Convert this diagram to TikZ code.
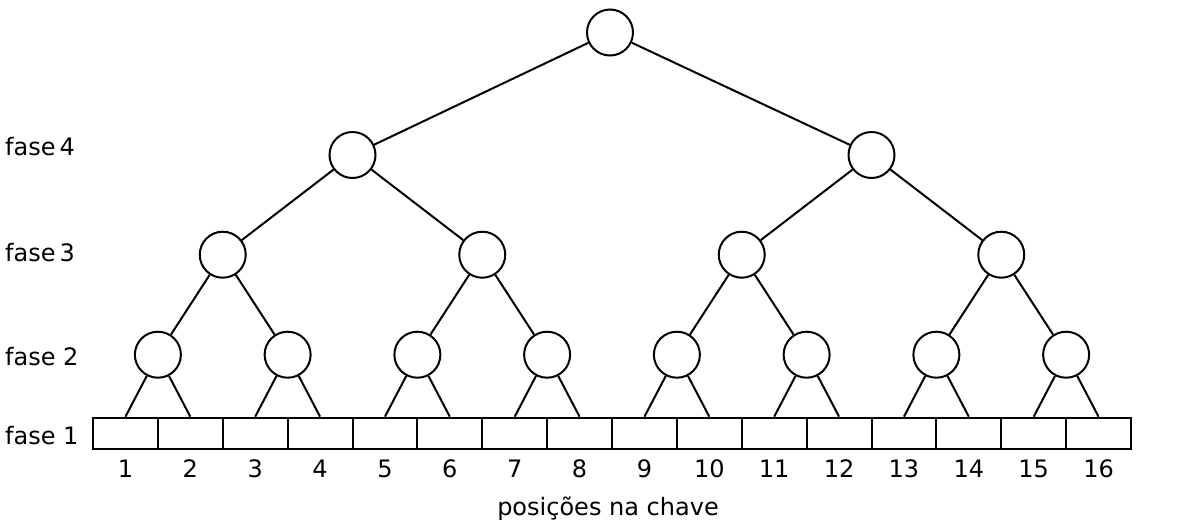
\documentclass[tikz,border=0pt]{standalone}
\usepackage{fontspec}
\setmainfont{DejaVu Sans}
\usepackage{tikz}
\tikzset{
    vertex/.style={circle, draw, inner sep=0pt, minimum size=46pt,
    	line width=2pt},
    keycell/.style={rectangle, draw, inner sep=0pt, minimum width=64.875pt,
    	minimum height=31.6pt, line width=2pt},
    keynum/.style={anchor=base, inner sep=0pt},
    faselabel/.style={anchor=base west, inner sep=0pt},
    every node/.append style={font=\fontsize{24}{28}\selectfont}
}
\tikzset{
    every edge/.append style={line width=2pt}
}

\begin{document}
\begin{tikzpicture}
	\useasboundingbox (0pt, 0pt) rectangle (1181pt, -531pt);

	\node (r) [vertex] at (610pt, -32.5pt) {};

	\node (a1) [vertex] at (352.5pt, -155pt) {};
	\node (a2) [vertex] at (871.5pt, -155pt) {};

	\node (b1) [vertex] at (222.75pt, -254.7pt) {};
	\node (b2) [vertex] at (482.25pt, -254.7pt) {};
	\node (b3) [vertex] at (741.75pt, -254.7pt) {};
	\node (b4) [vertex] at (1001.25pt, -254.7pt) {};

	\node (c1) [vertex] at (157.88pt, -354.7pt) {};
	\node (c2) [vertex] at (287.63pt, -354.7pt) {};
	\node (c3) [vertex] at (417.38pt, -354.7pt) {};
	\node (c4) [vertex] at (547.13pt, -354.7pt) {};
	\node (c5) [vertex] at (676.88pt, -354.7pt) {};
	\node (c6) [vertex] at (806.63pt, -354.7pt) {};
	\node (c7) [vertex] at (936.38pt, -354.7pt) {};
	\node (c8) [vertex] at (1066.13pt, -354.7pt) {};

	\node (k1) [keycell] at (125.44pt, -433.5pt) {};
	\node (k2) [keycell] at (190.31pt, -433.5pt) {};
	\node (k3) [keycell] at (255.19pt, -433.5pt) {};
	\node (k4) [keycell] at (320.06pt, -433.5pt) {};
	\node (k5) [keycell] at (384.94pt, -433.5pt) {};
	\node (k6) [keycell] at (449.81pt, -433.5pt) {};
	\node (k7) [keycell] at (514.69pt, -433.5pt) {};
	\node (k8) [keycell] at (579.56pt, -433.5pt) {};
	\node (k9) [keycell] at (644.44pt, -433.5pt) {};
	\node (k10) [keycell] at (709.31pt, -433.5pt) {};
	\node (k11) [keycell] at (774.19pt, -433.5pt) {};
	\node (k12) [keycell] at (839.06pt, -433.5pt) {};
	\node (k13) [keycell] at (903.94pt, -433.5pt) {};
	\node (k14) [keycell] at (968.81pt, -433.5pt) {};
	\node (k15) [keycell] at (1033.69pt, -433.5pt) {};
	\node (k16) [keycell] at (1098.56pt, -433.5pt) {};

	\node (n1) [keynum] at (125.44pt, -477.3pt) {1};
	\node (n2) [keynum] at (190.31pt, -477.3pt) {2};
	\node (n3) [keynum] at (255.19pt, -477.3pt) {3};
	\node (n4) [keynum] at (320.06pt, -477.3pt) {4};
	\node (n5) [keynum] at (384.94pt, -477.3pt) {5};
	\node (n6) [keynum] at (449.81pt, -477.3pt) {6};
	\node (n7) [keynum] at (514.69pt, -477.3pt) {7};
	\node (n8) [keynum] at (579.56pt, -477.3pt) {8};
	\node (n9) [keynum] at (644.44pt, -477.3pt) {9};
	\node (n10) [keynum] at (709.31pt, -477.3pt) {10};
	\node (n11) [keynum] at (774.19pt, -477.3pt) {11};
	\node (n12) [keynum] at (839.06pt, -477.3pt) {12};
	\node (n13) [keynum] at (903.94pt, -477.3pt) {13};
	\node (n14) [keynum] at (968.81pt, -477.3pt) {14};
	\node (n15) [keynum] at (1033.69pt, -477.3pt) {15};
	\node (n16) [keynum] at (1098.56pt, -477.3pt) {16};

	\node (f4) [faselabel] at (5pt, -155pt) {fase\kern4pt 4};
	\node (f3) [faselabel] at (5pt, -261pt) {fase\kern4pt 3};
	\node (f2) [faselabel] at (5pt, -365.7pt) {fase 2};
	\node (f1) [faselabel] at (5pt, -444pt) {fase 1};
	\node (pos) [anchor=base, inner sep=0pt] at (608pt, -515pt) {posições na chave};

	\draw (r) edge (a1); \draw (r) edge (a2);
	\draw (a1) edge (b1); \draw (a1) edge (b2);
	\draw (a2) edge (b3); \draw (a2) edge (b4);

	\draw (b1) edge (c1); \draw (b1) edge (c2);
	\draw (b2) edge (c3); \draw (b2) edge (c4);
	\draw (b3) edge (c5); \draw (b3) edge (c6);
	\draw (b4) edge (c7); \draw (b4) edge (c8);

	\draw (c1) edge (k1.north); \draw (c1) edge (k2.north);
	\draw (c2) edge (k3.north); \draw (c2) edge (k4.north);
	\draw (c3) edge (k5.north); \draw (c3) edge (k6.north);
	\draw (c4) edge (k7.north); \draw (c4) edge (k8.north);
	\draw (c5) edge (k9.north); \draw (c5) edge (k10.north);
	\draw (c6) edge (k11.north); \draw (c6) edge (k12.north);
	\draw (c7) edge (k13.north); \draw (c7) edge (k14.north);
	\draw (c8) edge (k15.north); \draw (c8) edge (k16.north);
\end{tikzpicture}
\end{document}
